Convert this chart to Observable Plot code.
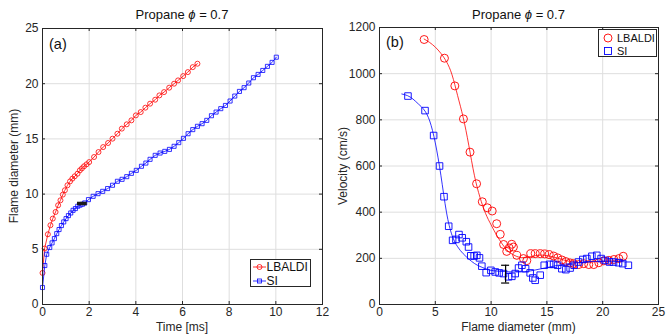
<!DOCTYPE html>
<html>
<head>
<meta charset="utf-8">
<script src="https://cdn.jsdelivr.net/npm/d3@7"></script>
<script src="https://cdn.jsdelivr.net/npm/@observablehq/plot@0.6"></script>
<style>
  html, body { margin: 0; padding: 0; background: #fff; }
  body { font-family: "Liberation Sans", Arial, Helvetica, sans-serif; color: #262626; }
  #wrap { position: relative; width: 666px; height: 335px; overflow: hidden; background: #fff; }
  .panel { position: absolute; top: 0; width: 333px; height: 335px; }
  .title { position: absolute; top: 8px; font-size: 13px; color: #111; white-space: nowrap; transform: translateX(-50%); line-height: 1; }
  .tag { position: absolute; font-size: 14.5px; color: #111; line-height: 1; }
  .xlab { position: absolute; font-size: 12px; color: #262626; white-space: nowrap; transform: translateX(-50%); line-height: 1; }
  .ylab { position: absolute; font-size: 12px; color: #262626; white-space: nowrap; transform: translate(-50%, -50%) rotate(-90deg); line-height: 1; }
  .legend { position: absolute; background: #fff; border: 1px solid #262626; box-sizing: border-box; color: #111; }
  .legend .row { position: absolute; left: 0; height: 12px; line-height: 12px; white-space: nowrap; }
  .legend svg { position: absolute; top: 0; }
  .legend span { position: absolute; top: 0; }
</style>
</head>
<body>
<div id="wrap">
  <div id="left" class="panel" style="left:0"></div>
  <div id="right" class="panel" style="left:333px"></div>
</div>
<script>
// ---------------- data: panel (a) flame diameter vs time ----------------
const timeLBALDI = [0, 0.09, 0.23, 0.34, 0.44, 0.56, 0.67, 0.77, 0.87, 0.96, 1.07, 1.18, 1.28, 1.38, 1.5,
  1.6, 1.69, 1.78, 1.89, 2.0, 2.21, 2.4, 2.6, 2.81, 3.0, 3.21, 3.4, 3.61, 3.81, 4.0,
  4.21, 4.41, 4.61, 4.83, 5.01, 5.21, 5.43, 5.64, 5.81, 6.03, 6.23, 6.44, 6.64];
const diamLBALDI = [2.86, 5.07, 6.36, 7.18, 7.78, 8.38, 8.99, 9.44, 9.95, 10.35, 10.8, 11.15, 11.4, 11.61, 11.85,
  12.15, 12.33, 12.52, 12.7, 12.9, 13.36, 13.81, 14.26, 14.63, 15.02, 15.47, 15.93, 16.32, 16.68, 17.13,
  17.43, 17.83, 18.19, 18.55, 18.94, 19.24, 19.64, 20.0, 20.3, 20.69, 21.05, 21.5, 21.81];
const timeSI = [0, 0.1, 0.18, 0.31, 0.41, 0.51, 0.61, 0.71, 0.81, 0.91, 1.01, 1.11, 1.21, 1.31, 1.41,
  1.51, 1.61, 1.71, 1.81, 1.97, 2.17, 2.38, 2.58, 2.79, 3.0, 3.21, 3.41, 3.61, 3.81, 4.02,
  4.24, 4.43, 4.61, 4.83, 5.04, 5.24, 5.44, 5.64, 5.84, 6.04, 6.24, 6.44, 6.64, 6.84, 7.04,
  7.24, 7.44, 7.64, 7.84, 8.04, 8.24, 8.44, 8.64, 8.84, 9.04, 9.24, 9.44, 9.64, 9.84, 10.02];
const diamSI = [1.54, 3.53, 4.55, 5.16, 5.58, 5.97, 6.42, 6.79, 7.15, 7.48, 7.78, 8.05, 8.29, 8.53, 8.69,
  8.9, 9.0, 9.08, 9.2, 9.5, 9.8, 10.04, 10.25, 10.5, 10.8, 11.16, 11.34, 11.58, 11.88, 12.15,
  12.52, 12.81, 13.15, 13.51, 13.72, 13.87, 14.05, 14.33, 14.66, 15.05, 15.47, 15.84, 16.14, 16.38, 16.68,
  17.1, 17.43, 17.74, 18.03, 18.43, 18.88, 19.3, 19.64, 20.06, 20.54, 20.84, 21.2, 21.57, 21.93, 22.4];
// horizontal error bar in panel (a)
const errTimeLo = [1.5];
const errTimeHi = [1.92];
const errDiam = [9.15];

// ---------------- data: panel (b) velocity vs flame diameter ----------------
const flameDLBALDI = [4.0, 5.82, 6.75, 7.52, 8.11, 8.7, 9.21, 9.66, 10.1, 10.5, 10.82, 11.12, 11.4, 11.62, 11.85,
  12.0, 12.3, 12.9, 13.2, 13.55, 13.95, 14.4, 14.8, 15.2, 15.6, 15.96, 16.34, 16.7, 17.08, 17.4,
  17.85, 18.3, 18.75, 19.2, 19.65, 20.1, 20.55, 21.0, 21.45, 21.84];
const velLBALDI = [1148, 1067, 947, 804, 660, 523, 445, 419, 405, 350, 304, 260, 230, 245, 261,
  249, 213, 199, 190, 220, 220, 220, 219, 216, 210, 202, 193, 186, 180, 177,
  173, 177, 173, 173, 181, 189, 191, 195, 199, 209];
const flameDSI = [2.55, 4.08, 4.85, 5.38, 5.78, 6.2, 6.55, 6.85, 7.12, 7.41, 7.78, 7.98, 8.18, 8.48, 8.72,
  8.96, 9.17, 9.56, 9.98, 10.37, 10.72, 11.11, 11.56, 11.86, 12.16, 12.46, 12.76, 13.09, 13.5, 13.74,
  13.95, 14.4, 14.76, 15.24, 15.6, 15.96, 16.34, 16.7, 17.08, 17.44, 17.83, 18.22, 18.58, 19.03, 19.47,
  19.86, 20.22, 20.61, 20.97, 21.42, 21.8, 22.3];
const velSI = [903, 840, 732, 600, 467, 339, 278, 282, 303, 289, 272, 249, 211, 210, 213,
  202, 166, 138, 148, 141, 137, 134, 120, 122, 134, 158, 170, 155, 137, 115,
  105, 127, 170, 174, 174, 170, 155, 151, 158, 170, 184, 195, 199, 209, 213,
  199, 191, 184, 184, 181, 177, 170];
// fitted curves
const fitDLBALDI = [4.0, 4.5, 5.0, 5.5, 6.0, 6.5, 7.0, 7.5, 8.0, 8.5, 9.0, 9.5, 10.0, 10.5, 11.0,
  11.5, 12.0, 12.5, 13.0, 13.5, 14.0, 14.5, 15.0, 15.5, 16.0, 16.5, 17.0, 17.5, 18.0, 19.0, 20.0, 21.0, 21.8];
const fitVLBALDI = [1150, 1135, 1115, 1088, 1052, 995, 905, 810, 690, 560, 465, 395, 345, 300, 262,
  232, 215, 205, 203, 207, 212, 214, 212, 207, 200, 193, 187, 183, 182, 184, 187, 189, 188];
const fitDSI = [2.0, 2.5, 3.0, 3.5, 4.0, 4.5, 5.0, 5.5, 6.0, 6.5, 7.0, 7.5, 8.0, 8.5, 9.0,
  9.5, 10.0, 11.0, 12.0, 13.0, 14.0, 15.0, 16.0, 17.0, 18.0, 19.0, 20.0, 21.0, 22.0];
const fitVSI = [912, 905, 890, 868, 843, 795, 700, 560, 400, 300, 250, 220, 197, 178, 165,
  155, 148, 143, 141, 142, 150, 160, 170, 177, 182, 186, 188, 187, 185];
// vertical error bar in panel (b)
const errFlameD = [11.3];
const errVelLo = [93];
const errVelHi = [170];

// ---------------- ticks / labels ----------------
const ticksTime = [0, 2, 4, 6, 8, 10, 12];
const ticksDiam = [0, 5, 10, 15, 20, 25];
const ticksFlameD = [0, 5, 10, 15, 20, 25];
const ticksVel = [0, 200, 400, 600, 800, 1000, 1200];
const seriesNames = ["LBALDI", "SI"];
const seriesColors = ["#ff0000", "#0000ff"];
const titleText = "Propane ";
const titleTail = " = 0.7";

const zip = (xs, ys) => xs.map((x, i) => ({x, y: ys[i]}));
const AX = "#262626";
const GRID = "#dedede";

function frameMarks(xt, yt, fw, fh, len) {
  return [
    Plot.gridX(xt, {stroke: GRID, strokeOpacity: 1, strokeWidth: 1}),
    Plot.gridY(yt, {stroke: GRID, strokeOpacity: 1, strokeWidth: 1}),
    Plot.tickX(xt, {x: d => d, insetTop: fh - len, stroke: AX}),
    Plot.tickX(xt, {x: d => d, insetBottom: fh - len, stroke: AX}),
    Plot.tickY(yt, {y: d => d, insetRight: fw - len, stroke: AX}),
    Plot.tickY(yt, {y: d => d, insetLeft: fw - len, stroke: AX})
  ];
}
const style = {fontFamily: '"Liberation Sans", Arial, Helvetica, sans-serif', fontSize: "12px", color: AX, background: "transparent", overflow: "visible"};

// ---------------- panel (a) ----------------
{
  const W = 333, H = 335, mL = 42, mR = 11, mT = 28, mB = 31;
  const fw = W - mL - mR, fh = H - mT - mB;
  const a1 = zip(timeLBALDI, diamLBALDI), a2 = zip(timeSI, diamSI);
  const err = errDiam.map((d, i) => ({d, lo: errTimeLo[i], hi: errTimeHi[i]}));
  const plot = Plot.plot({
    width: W, height: H, marginLeft: mL, marginRight: mR, marginTop: mT, marginBottom: mB,
    style,
    x: {domain: [0, 12], ticks: ticksTime},
    y: {domain: [0, 25], ticks: ticksDiam},
    marks: [
      ...frameMarks(ticksTime, ticksDiam, fw, fh, 3),
      Plot.axisX(ticksTime, {tickSize: 0, tickPadding: 3, label: null}),
      Plot.axisY(ticksDiam, {tickSize: 0, tickPadding: 4, label: null}),
      Plot.line(a1, {x: "x", y: "y", stroke: seriesColors[0], strokeWidth: 0.8}),
      Plot.dot(a1, {x: "x", y: "y", r: 2.5, symbol: "circle", stroke: seriesColors[0], strokeWidth: 0.8, fill: "none"}),
      Plot.line(a2, {x: "x", y: "y", stroke: seriesColors[1], strokeWidth: 0.8}),
      Plot.dot(a2, {x: "x", y: "y", r: 2.3, symbol: "square", stroke: seriesColors[1], strokeWidth: 0.8, fill: "none"}),
      Plot.ruleY(err, {y: "d", x1: "lo", x2: "hi", stroke: "#1a1a1a", strokeWidth: 3.5}),
      Plot.frame({stroke: AX, strokeWidth: 1})
    ]
  });
  const host = document.getElementById("left");
  host.appendChild(plot);
  host.insertAdjacentHTML("beforeend", `
    <div class="title" style="left:${mL + fw / 2}px">${titleText}<i>&#981;</i>${titleTail}</div>
    <div class="tag" style="left:49px;top:37px">(a)</div>
    <div class="xlab" style="left:${mL + fw / 2}px;top:321px">Time [ms]</div>
    <div class="ylab" style="left:14px;top:${mT + fh / 2}px">Flame diameter (mm)</div>
    <div class="legend" style="left:250px;top:259px;width:61px;height:28px;font-size:12px">
      <div class="row" style="top:1px"><svg width="16" height="12"><line x1="2" y1="6" x2="15" y2="6" stroke="${seriesColors[0]}" stroke-width="0.8"/><circle cx="8.5" cy="6" r="2.5" fill="none" stroke="${seriesColors[0]}" stroke-width="0.8"/></svg><span style="left:15.5px">${seriesNames[0]}</span></div>
      <div class="row" style="top:15px"><svg width="16" height="12"><line x1="2" y1="6" x2="15" y2="6" stroke="${seriesColors[1]}" stroke-width="0.8"/><rect x="6.5" y="4" width="4" height="4" fill="none" stroke="${seriesColors[1]}" stroke-width="0.8"/></svg><span style="left:15.5px">${seriesNames[1]}</span></div>
    </div>`);
}

// ---------------- panel (b) ----------------
{
  const W = 333, H = 335, mL = 46, mR = 8, mT = 27, mB = 31;
  const fw = W - mL - mR, fh = H - mT - mB;
  const b1 = zip(flameDLBALDI, velLBALDI), b2 = zip(flameDSI, velSI);
  const f1 = zip(fitDLBALDI, fitVLBALDI), f2 = zip(fitDSI, fitVSI);
  const err = errFlameD.map((d, i) => ({d, lo: errVelLo[i], hi: errVelHi[i]}));
  const plot = Plot.plot({
    width: W, height: H, marginLeft: mL, marginRight: mR, marginTop: mT, marginBottom: mB,
    style,
    x: {domain: [0, 25], ticks: ticksFlameD},
    y: {domain: [0, 1200], ticks: ticksVel},
    marks: [
      ...frameMarks(ticksFlameD, ticksVel, fw, fh, 3),
      Plot.axisX(ticksFlameD, {tickSize: 0, tickPadding: 3, label: null}),
      Plot.axisY(ticksVel, {tickSize: 0, tickPadding: 4, label: null, tickFormat: d => String(d)}),
      Plot.line(f1, {x: "x", y: "y", stroke: seriesColors[0], strokeWidth: 0.8, curve: "natural"}),
      Plot.dot(b1, {x: "x", y: "y", r: 4, symbol: "circle", stroke: seriesColors[0], strokeWidth: 0.9, fill: "none"}),
      Plot.line(f2, {x: "x", y: "y", stroke: seriesColors[1], strokeWidth: 0.8, curve: "natural"}),
      Plot.dot(b2, {x: "x", y: "y", r: 3.7, symbol: "square", stroke: seriesColors[1], strokeWidth: 0.9, fill: "none"}),
      Plot.ruleX(err, {x: "d", y1: "lo", y2: "hi", stroke: "#000", strokeWidth: 1.2}),
      Plot.ruleY(err, {y: "lo", x1: d => d.d - 0.36, x2: d => d.d + 0.36, stroke: "#000", strokeWidth: 1.2}),
      Plot.ruleY(err, {y: "hi", x1: d => d.d - 0.36, x2: d => d.d + 0.36, stroke: "#000", strokeWidth: 1.2}),
      Plot.frame({stroke: AX, strokeWidth: 1})
    ]
  });
  const host = document.getElementById("right");
  host.appendChild(plot);
  host.insertAdjacentHTML("beforeend", `
    <div class="title" style="left:${mL + fw / 2}px">${titleText}<i>&#981;</i>${titleTail}</div>
    <div class="tag" style="left:53px;top:35px">(b)</div>
    <div class="xlab" style="left:${mL + fw / 2}px;top:321px">Flame diameter (mm)</div>
    <div class="ylab" style="left:10px;top:${mT + fh / 2}px">Velocity (cm/s)</div>
    <div class="legend" style="left:265px;top:29px;width:59px;height:28px;font-size:11px">
      <div class="row" style="top:2px"><svg width="16" height="12"><circle cx="9" cy="6" r="4" fill="none" stroke="${seriesColors[0]}" stroke-width="0.9"/></svg><span style="left:18px">${seriesNames[0]}</span></div>
      <div class="row" style="top:15px"><svg width="16" height="12"><rect x="5.5" y="2.5" width="7" height="7" fill="none" stroke="${seriesColors[1]}" stroke-width="0.9"/></svg><span style="left:18px">${seriesNames[1]}</span></div>
    </div>`);
}
</script>
</body>
</html>
